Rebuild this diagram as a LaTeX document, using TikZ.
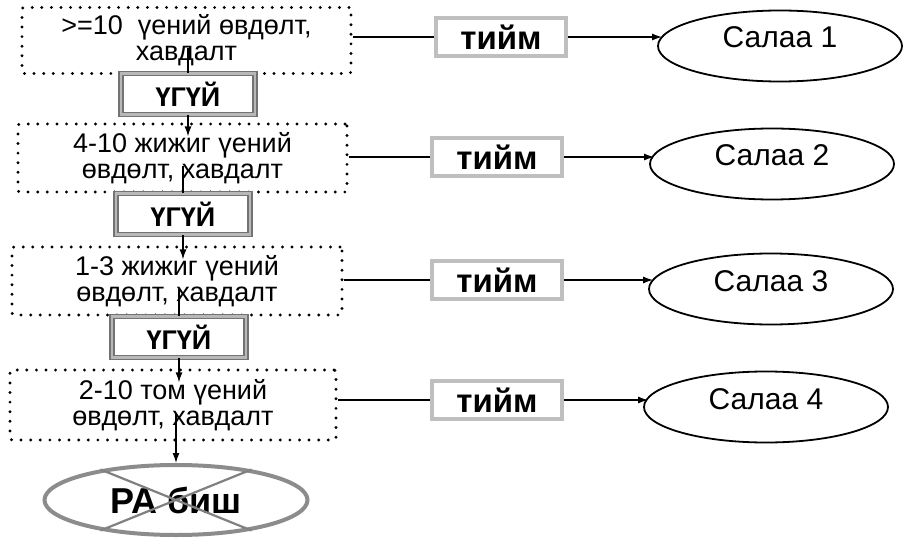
\documentclass[tikz,border=0pt]{standalone}
\usepackage{fontspec}
\setmainfont{Liberation Sans}
\usetikzlibrary{arrows.meta,shapes.geometric,calc}
\begin{document}
\begin{tikzpicture}[x=1pt,y=-1pt,
  cond/.style={draw=black, line width=3.2pt, dash pattern=on 0pt off 9.6pt,
    line cap=round, rounded corners=2pt, fill=white, minimum width=329pt,
    minimum height=66pt, align=center, inner sep=0pt,
    font=\fontsize{27}{26}\selectfont},
  nobox/.style={draw=black!55, double=black!28, double distance=2.8pt,
    line width=1.3pt, fill=white, minimum width=134pt, minimum height=41pt,
    inner sep=0pt, font=\bfseries\fontsize{27}{29}\selectfont},
  yesbox/.style={draw=black!25, line width=4pt, fill=white,
    minimum width=130pt, minimum height=38pt, inner sep=0pt,
    font=\bfseries\fontsize{33}{35}\selectfont},
  branch/.style={ellipse, draw=black, line width=1.8pt, minimum width=244pt,
    minimum height=71pt, inner sep=0pt, text height=21pt, text depth=17pt,
    font=\fontsize{30}{32}\selectfont},
  stopnode/.style={ellipse, draw=black!45, line width=4pt, minimum width=263pt,
    minimum height=70pt, inner sep=0pt,
    font=\bfseries\fontsize{36}{38}\selectfont},
  link/.style={line width=1.3pt, draw=black},
  arr/.style={link, -{Latex[length=10pt,width=7pt]}},
]
\useasboundingbox (0,0) rectangle (907,540);
\fill[white] (0,0) rectangle (907,540);

% decision boxes on the left
\node[cond] (b1) at (186.5,40.5) {>=10\ \ үений өвдөлт,\\хавдалт};
\node[cond, minimum height=68pt] (b2) at (182.5,158) {4-10 жижиг үений\\өвдөлт, хавдалт};
\node[cond, minimum width=330pt, minimum height=68pt] (b3) at (177,281) {1-3 жижиг үений\\өвдөлт, хавдалт};
\node[cond, minimum width=326pt, minimum height=70pt] (b4) at (173,405) {2-10 том үений\\өвдөлт, хавдалт};

% "no" labels between the boxes
\node[nobox] (u1) at (188,94) {ҮГҮЙ};
\node[nobox] (u2) at (183,214) {ҮГҮЙ};
\node[nobox] (u3) at (179,337) {ҮГҮЙ};

% final outcome, crossed out
\node[stopnode] (pa) at (176,500) {РА биш};
\draw[black!50, line width=2.2pt] (pa.158) -- (pa.-22) (pa.-158) -- (pa.22);

% "yes" labels
\node[yesbox] (y1) at (501,37) {тийм};
\node[yesbox] (y2) at (497,157) {тийм};
\node[yesbox] (y3) at (497,280) {тийм};
\node[yesbox] (y4) at (497,400) {тийм};

% branches
\node[branch] (s1) at (780,46) {Салаа 1};
\node[branch] (s2) at (772,164) {Салаа 2};
\node[branch] (s3) at (771,289) {Салаа 3};
\node[branch] (s4) at (766,407) {Салаа 4};

% vertical flow
\draw[link] ($(u1.north |- b1.center)+(0,8)$) -- (u1.north);
\draw[arr] (u1.south) -- ($(u1.south |- b2.north)+(0,14)$);
\draw[link] ($(u2.north |- b2.center)+(0,8)$) -- (u2.north);
\draw[arr] (u2.south) -- ($(u2.south |- b3.north)+(0,14)$);
\draw[link] ($(u3.north |- b3.center)+(0,8)$) -- (u3.north);
\draw[arr] (u3.south) -- ($(u3.south |- b4.north)+(0,14)$);
\draw[arr] ($(pa.north |- b4.center)+(0,8)$) -- (pa.north);

% horizontal flow
\draw[link] (b1.east |- y1.west) -- (y1.west);
\draw[link] (b2.east |- y2.west) -- (y2.west);
\draw[link] (b3.east |- y3.west) -- (y3.west);
\draw[link] (b4.east |- y4.west) -- (y4.west);
\draw[arr] (y1.east) -- ($(y1.east -| s1.west)+(5,0)$);
\draw[arr] (y2.east) -- ($(y2.east -| s2.west)+(5,0)$);
\draw[arr] (y3.east) -- ($(y3.east -| s3.west)+(5,0)$);
\draw[arr] (y4.east) -- ($(y4.east -| s4.west)+(5,0)$);
\end{tikzpicture}
\end{document}
